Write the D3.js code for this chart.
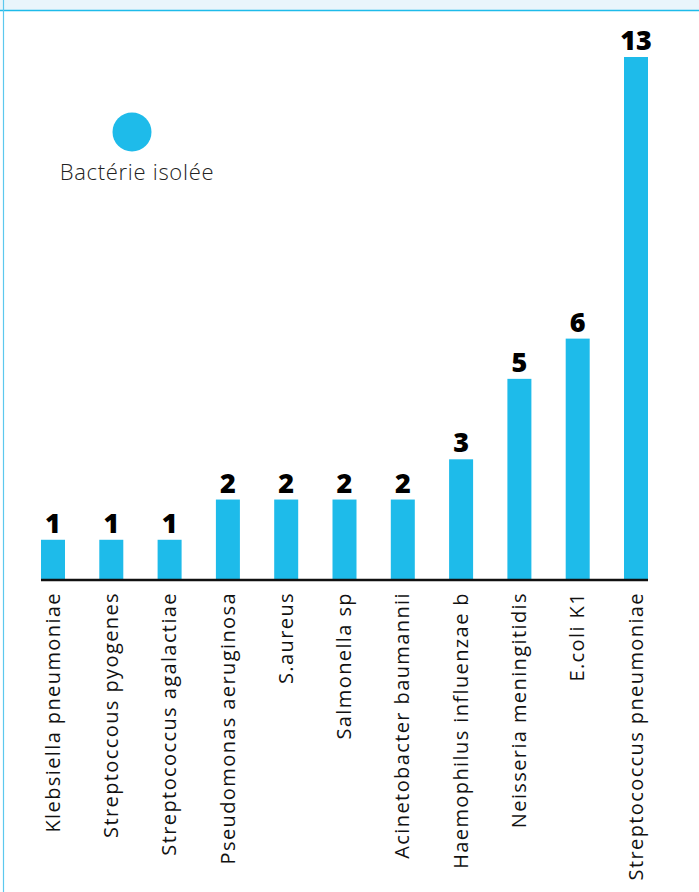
<!DOCTYPE html>
<html>
<head>
<meta charset="utf-8">
<script src="https://cdn.jsdelivr.net/npm/d3@7"></script>
<style>
  html, body { margin: 0; padding: 0; background: #fff; }
  svg { display: block; }
</style>
</head>
<body>
<svg id="chart" width="699" height="892"></svg>
<script>
// bacteria isolated, count per species
const categories = [
  "Klebsiella pneumoniae",
  "Streptoccous pyogenes",
  "Streptococcus agalactiae",
  "Pseudomonas aeruginosa",
  "S.aureus",
  "Salmonella sp",
  "Acinetobacter baumannii",
  "Haemophilus influenzae b",
  "Neisseria meningitidis",
  "E.coli K1",
  "Streptococcus pneumoniae"
];
const counts = [1, 1, 1, 2, 2, 2, 2, 3, 5, 6, 13];
const legendLabel = "Bactérie isolée";

const blue = "#1ebbea";
const svg = d3.select("#chart");
const W = 699, H = 892;

// frame: light strip on top, thin borders
svg.append("rect").attr("x", 0).attr("y", 0).attr("width", W).attr("height", 10)
  .attr("fill", "#e9f5fb");
svg.append("line").attr("x1", 0).attr("x2", W).attr("y1", 10.5).attr("y2", 10.5)
  .attr("stroke", blue).attr("stroke-width", 1.5);
svg.append("line").attr("x1", 3.5).attr("x2", 3.5).attr("y1", 0).attr("y2", H)
  .attr("stroke", "#5cc8ee").attr("stroke-width", 1.2);

const barW = 24;
const x = d3.scalePoint().domain(categories).range([53, 636]);
const y = d3.scaleLinear().domain([0, 13]).range([580, 57]);

const g = svg.append("g");

g.selectAll(".bar")
  .data(categories)
  .enter().append("rect")
    .attr("class", "bar")
    .attr("x", d => x(d) - barW / 2)
    .attr("width", barW)
    .attr("y", (d, i) => y(counts[i]))
    .attr("height", (d, i) => y(0) - y(counts[i]))
    .attr("fill", blue);

g.selectAll(".val")
  .data(categories)
  .enter().append("text")
    .attr("class", "val")
    .attr("x", d => x(d))
    .attr("y", (d, i) => y(counts[i]) - 7)
    .attr("text-anchor", "middle")
    .style("font", "800 27px 'Open Sans', sans-serif")
    .attr("fill", "#000")
    .text((d, i) => counts[i]);

// baseline
g.append("line")
  .attr("x1", x(categories[0]) - barW / 2)
  .attr("x2", x(categories[categories.length - 1]) + barW / 2)
  .attr("y1", y(0)).attr("y2", y(0))
  .attr("stroke", "#111").attr("stroke-width", 2.5);

g.selectAll(".cat")
  .data(categories)
  .enter().append("text")
    .attr("class", "cat")
    .attr("transform", d => "translate(" + x(d) + ",592) rotate(-90)")
    .attr("text-anchor", "end")
    .attr("dy", "0.33em")
    .style("font", "400 20px 'Open Sans', sans-serif")
    .style("letter-spacing", "1.4px")
    .attr("fill", "#111")
    .text(d => d);

// legend
const legend = svg.append("g");
legend.append("circle").attr("cx", 132).attr("cy", 132).attr("r", 19.5).attr("fill", blue);
legend.append("text")
  .attr("x", 137).attr("y", 180)
  .attr("text-anchor", "middle")
  .style("font", "300 22px 'Open Sans', sans-serif")
  .style("letter-spacing", "0.7px")
  .attr("fill", "#222")
  .text(legendLabel);
</script>
</body>
</html>
